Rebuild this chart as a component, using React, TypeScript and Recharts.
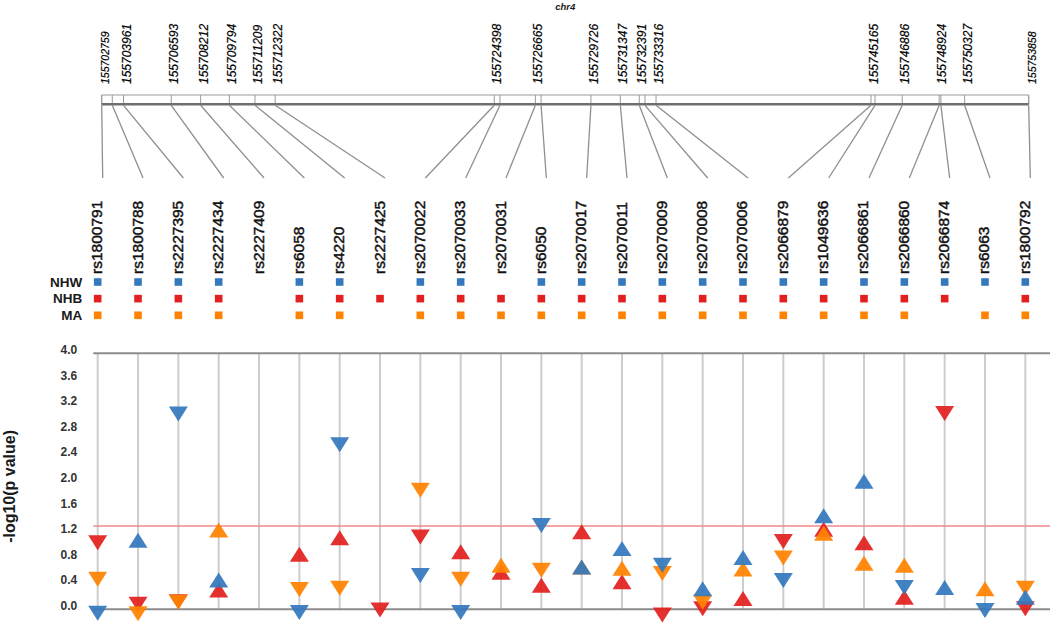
import React from 'react';
import { ComposedChart, Scatter, XAxis, YAxis, ReferenceLine, ReferenceArea } from 'recharts';

const SNPS = [
  'rs1800791', 'rs1800788', 'rs2227395', 'rs2227434', 'rs2227409', 'rs6058', 'rs4220', 'rs2227425',
  'rs2070022', 'rs2070033', 'rs2070031', 'rs6050', 'rs2070017', 'rs2070011', 'rs2070009', 'rs2070008',
  'rs2070006', 'rs2066879', 'rs1049636', 'rs2066861', 'rs2066860', 'rs2066874', 'rs6063', 'rs1800792',
];

// chr4 position of each SNP (unlabelled ones estimated from the bar)
const SNP_POS = [
  155702759, 155703343, 155703961, 155706593, 155708212, 155709794, 155711209, 155712322,
  155724398, 155724712, 155726665, 155726979, 155729726, 155731347, 155732391, 155732705,
  155733316, 155745165, 155745385, 155746886, 155748924, 155749018, 155750327, 155753858,
];

const POS_LABELS = [
  155702759, 155703961, 155706593, 155708212, 155709794, 155711209, 155712322, 155724398, 155726665,
  155729726, 155731347, 155732391, 155733316, 155745165, 155746886, 155748924, 155750327, 155753858,
];

const GROUPS = ['NHW', 'NHB', 'MA'];

const NHW_VALUES = [-0.06, 1.08, 3.05, 0.46, null, -0.05, 2.57, null, 0.53, -0.05, null, 1.31, 0.66, 0.95, 0.69, 0.32, 0.81, 0.45, 1.46, 2.0, 0.34, 0.34, -0.02, 0.19];
const NHW_DIRS = ['down', 'up', 'down', 'up', null, 'down', 'down', null, 'down', 'down', null, 'down', 'up', 'up', 'down', 'up', 'up', 'down', 'up', 'up', 'down', 'up', 'down', 'up'];

const NHB_VALUES = [1.04, 0.08, 0.12, 0.3, null, 0.86, 1.12, -0.01, 1.13, 0.9, 0.58, 0.375, 1.21, 0.43, -0.09, 0.01, 0.17, 1.06, 1.25, 1.04, 0.19, 3.06, null, 0.01];
const NHB_DIRS = ['down', 'down', 'down', 'up', null, 'up', 'up', 'down', 'down', 'up', 'up', 'up', 'up', 'up', 'down', 'down', 'up', 'down', 'up', 'up', 'up', 'down', null, 'down'];

const MA_VALUES = [0.47, -0.07, 0.11, 1.24, null, 0.31, 0.33, null, 1.86, 0.47, 0.69, 0.61, 0.66, 0.64, 0.56, 0.11, 0.63, 0.8, 1.19, 0.72, 0.69, null, 0.32, 0.33];
const MA_DIRS = ['down', 'down', 'down', 'up', null, 'down', 'down', null, 'down', 'down', 'up', 'down', 'up', 'up', 'down', 'down', 'up', 'down', 'up', 'up', 'up', null, 'up', 'down'];

const Y_TICKS = [0, 0.4, 0.8, 1.2, 1.6, 2.0, 2.4, 2.8, 3.2, 3.6, 4.0];
const THRESHOLD = 1.301; // p = 0.05

const BLUE = '#3579bd';
const RED = '#e2201f';
const ORANGE = '#ff8200';

const W = 1050;
const LEFT = 93.3;
const X_DOMAIN: [number, number] = [-0.109, 23.612];
const G_DOMAIN: [number, number] = [155702296, 155755032];
const LINK_SHIFT = 0.124;
const BAR_TOP = 7;
const BAR_BOTTOM = 16.3;
const LINK_END = 90;
const FONT = '"Liberation Sans", Arial, sans-serif';

const colToGenome = (i: number) =>
  G_DOMAIN[0] + ((i + LINK_SHIFT - X_DOMAIN[0]) / (X_DOMAIN[1] - X_DOMAIN[0])) * (G_DOMAIN[1] - G_DOMAIN[0]);

const toPoints = (values: (number | null)[], dirs: (string | null)[]) =>
  values.map((v, i) => (v == null ? null : { x: i, y: v, dir: dirs[i] })).filter(Boolean) as any[];

const toSquares = (values: (number | null)[], row: number) =>
  values.map((v, i) => (v == null ? null : { x: i, y: row })).filter(Boolean) as any[];

const barTicks = SNP_POS.map((p) => ({ x: p, y: BAR_TOP }));

const Triangle = (props: any) => {
  const { cx, cy, fill, payload } = props;
  if (cx == null || cy == null) return null;
  const w = 9.5;
  const h = 7.5;
  const pts = payload.dir === 'up'
    ? `${cx},${cy - h} ${cx + w},${cy + h} ${cx - w},${cy + h}`
    : `${cx - w},${cy - h} ${cx + w},${cy - h} ${cx},${cy + h}`;
  return <polygon points={pts} fill={fill} fillOpacity={0.93} />;
};

const Square = (props: any) => {
  const { cx, cy, fill } = props;
  if (cx == null || cy == null) return null;
  return <rect x={cx - 3.8} y={cy - 3.8} width={7.6} height={7.6} fill={fill} />;
};

const Nothing = () => <g />;

const PosTick = (props: any) => {
  const { x, y, payload } = props;
  const v = payload.value;
  const edge = v === POS_LABELS[0] || v === POS_LABELS[POS_LABELS.length - 1];
  const tx = x + 3;
  return (
    <text x={tx} y={y} transform={`rotate(-90 ${tx} ${y})`} textAnchor="start" dominantBaseline="central"
      fontStyle="italic" fontSize={edge ? 10.5 : 12} fill="#000" stroke="#000" strokeWidth={0.2} fontFamily={FONT}>
      {v}
    </text>
  );
};

const SnpTick = (props: any) => {
  const { x, y, payload } = props;
  const tx = x - 1;
  return (
    <text x={tx} y={y} transform={`rotate(-90 ${tx} ${y})`} textAnchor="start" dominantBaseline="central"
      fontSize={15.5} fill="#111" stroke="#111" strokeWidth={0.45} fontFamily={FONT}>
      {SNPS[payload.value]}
    </text>
  );
};

const GroupTick = (props: any) => {
  const { x, y, payload } = props;
  return (
    <text x={x} y={y} dy="0.355em" textAnchor="end" fontWeight="bold" fontSize={13.5} fill="#1a1a1a" fontFamily={FONT}>
      {GROUPS[payload.value]}
    </text>
  );
};

const ValueTick = (props: any) => {
  const { x, y, payload } = props;
  return (
    <text x={x} y={y - 3.5} dy="0.355em" textAnchor="end" fontWeight="bold" fontSize={12} fill="#333" fontFamily={FONT}>
      {Number(payload.value).toFixed(1)}
    </text>
  );
};

const AxisTitle = (props: any) => {
  const vb = props.viewBox || { x: 0, y: 0, height: 300 };
  const tx = 10;
  const ty = vb.y + vb.height * 0.538;
  return (
    <text x={tx} y={ty} transform={`rotate(-90 ${tx} ${ty})`} textAnchor="middle" dominantBaseline="central"
      fontWeight="bold" fontSize={16} fill="#1a1a1a" fontFamily={FONT}>
      -log10(p value)
    </text>
  );
};

const ChrLabel = (props: any) => {
  const vb = props.viewBox || { x: LEFT, width: W - LEFT };
  const mid = (SNP_POS[0] + SNP_POS[SNP_POS.length - 1]) / 2;
  const tx = vb.x + ((mid - G_DOMAIN[0]) / (G_DOMAIN[1] - G_DOMAIN[0])) * vb.width;
  return (
    <text x={tx} y={10} textAnchor="middle" fontStyle="italic" fontWeight="bold" fontSize={9.5} fill="#1a1a1a" fontFamily={FONT}>
      chr4
    </text>
  );
};

const GenomeMap = () => (
  <ComposedChart width={W} height={180} margin={{ top: 0, right: 0, bottom: 0, left: LEFT }}>
    <XAxis xAxisId="g" dataKey="x" type="number" orientation="top" domain={G_DOMAIN} ticks={POS_LABELS} interval={0}
      height={88} axisLine={false} tickLine={false} tickSize={0} tickMargin={4} tick={<PosTick />} label={ChrLabel} />
    <YAxis yAxisId="l" dataKey="y" type="number" domain={[0, 92]} reversed hide />
    <Scatter xAxisId="g" yAxisId="l" data={barTicks} fill="none" shape={Nothing} isAnimationActive={false} />
    <ReferenceArea xAxisId="g" yAxisId="l" x1={SNP_POS[0]} x2={SNP_POS[SNP_POS.length - 1]} y1={BAR_TOP} y2={BAR_BOTTOM}
      fill="#fff" fillOpacity={1} stroke="#999" strokeWidth={1} />
    {SNP_POS.map((p) => (
      <ReferenceLine key={`t${p}`} xAxisId="g" yAxisId="l" segment={[{ x: p, y: BAR_TOP }, { x: p, y: BAR_BOTTOM }]}
        stroke="#9a9a9a" strokeWidth={1} />
    ))}
    <ReferenceLine xAxisId="g" yAxisId="l"
      segment={[{ x: SNP_POS[0], y: BAR_BOTTOM }, { x: SNP_POS[SNP_POS.length - 1], y: BAR_BOTTOM }]}
      stroke="#6f6f6f" strokeWidth={2.5} />
    {SNP_POS.map((p, i) => (
      <ReferenceLine key={`c${p}`} xAxisId="g" yAxisId="l"
        segment={[{ x: p, y: BAR_BOTTOM + 1 }, { x: colToGenome(i), y: LINK_END }]}
        stroke="#8f8f8f" strokeWidth={1.3} />
    ))}
  </ComposedChart>
);

const SnpPanel = () => (
  <ComposedChart width={W} height={145} margin={{ top: 0, right: 0, bottom: 0, left: 0 }}>
    <XAxis xAxisId="s" dataKey="x" type="number" orientation="top" domain={X_DOMAIN} ticks={SNPS.map((_, i) => i)}
      interval={0} height={96} axisLine={false} tickLine={false} tickSize={0} tickMargin={2} tick={<SnpTick />} />
    <YAxis yAxisId="r" dataKey="y" type="number" domain={[-0.36, 2.583]} reversed ticks={[0, 1, 2]} interval={0}
      width={LEFT} axisLine={false} tickLine={false} tickSize={0} tickMargin={11} tick={<GroupTick />} />
    <Scatter xAxisId="s" yAxisId="r" data={toSquares(NHW_VALUES, 0)} fill={BLUE} shape={Square} isAnimationActive={false} />
    <Scatter xAxisId="s" yAxisId="r" data={toSquares(NHB_VALUES, 1)} fill={RED} shape={Square} isAnimationActive={false} />
    <Scatter xAxisId="s" yAxisId="r" data={toSquares(MA_VALUES, 2)} fill={ORANGE} shape={Square} isAnimationActive={false} />
  </ComposedChart>
);

const PValuePlot = () => (
  <ComposedChart width={W} height={300} margin={{ top: 0, right: 0, bottom: 0, left: 0 }}>
    <XAxis xAxisId="s" dataKey="x" type="number" domain={X_DOMAIN} hide />
    <YAxis yAxisId="v" dataKey="y" type="number" domain={[-0.245, 4.442]} ticks={Y_TICKS} interval={0} width={LEFT}
      axisLine={false} tickLine={false} tickSize={6} tickMargin={10} tick={<ValueTick />} label={AxisTitle} />
    {SNPS.map((s, i) => (
      <ReferenceLine key={s} xAxisId="s" yAxisId="v" segment={[{ x: i, y: 0 }, { x: i, y: 4 }]}
        stroke="#cdcdcd" strokeWidth={2} />
    ))}
    <ReferenceLine xAxisId="s" yAxisId="v" y={4} stroke="#8c8c8c" strokeWidth={2} />
    <ReferenceLine xAxisId="s" yAxisId="v" y={0} stroke="#8c8c8c" strokeWidth={2} />
    <ReferenceLine xAxisId="s" yAxisId="v" y={THRESHOLD} stroke="#f28a8a" strokeWidth={1.5} />
    <Scatter xAxisId="s" yAxisId="v" data={toPoints(NHB_VALUES, NHB_DIRS)} fill={RED} shape={Triangle} isAnimationActive={false} />
    <Scatter xAxisId="s" yAxisId="v" data={toPoints(MA_VALUES, MA_DIRS)} fill={ORANGE} shape={Triangle} isAnimationActive={false} />
    <Scatter xAxisId="s" yAxisId="v" data={toPoints(NHW_VALUES, NHW_DIRS)} fill={BLUE} shape={Triangle} isAnimationActive={false} />
  </ComposedChart>
);

export default function App() {
  return (
    <div style={{ position: 'absolute', left: 0, top: 0, width: W, height: 625, background: '#fff', fontFamily: FONT }}>
      <GenomeMap />
      <SnpPanel />
      <PValuePlot />
    </div>
  );
}
